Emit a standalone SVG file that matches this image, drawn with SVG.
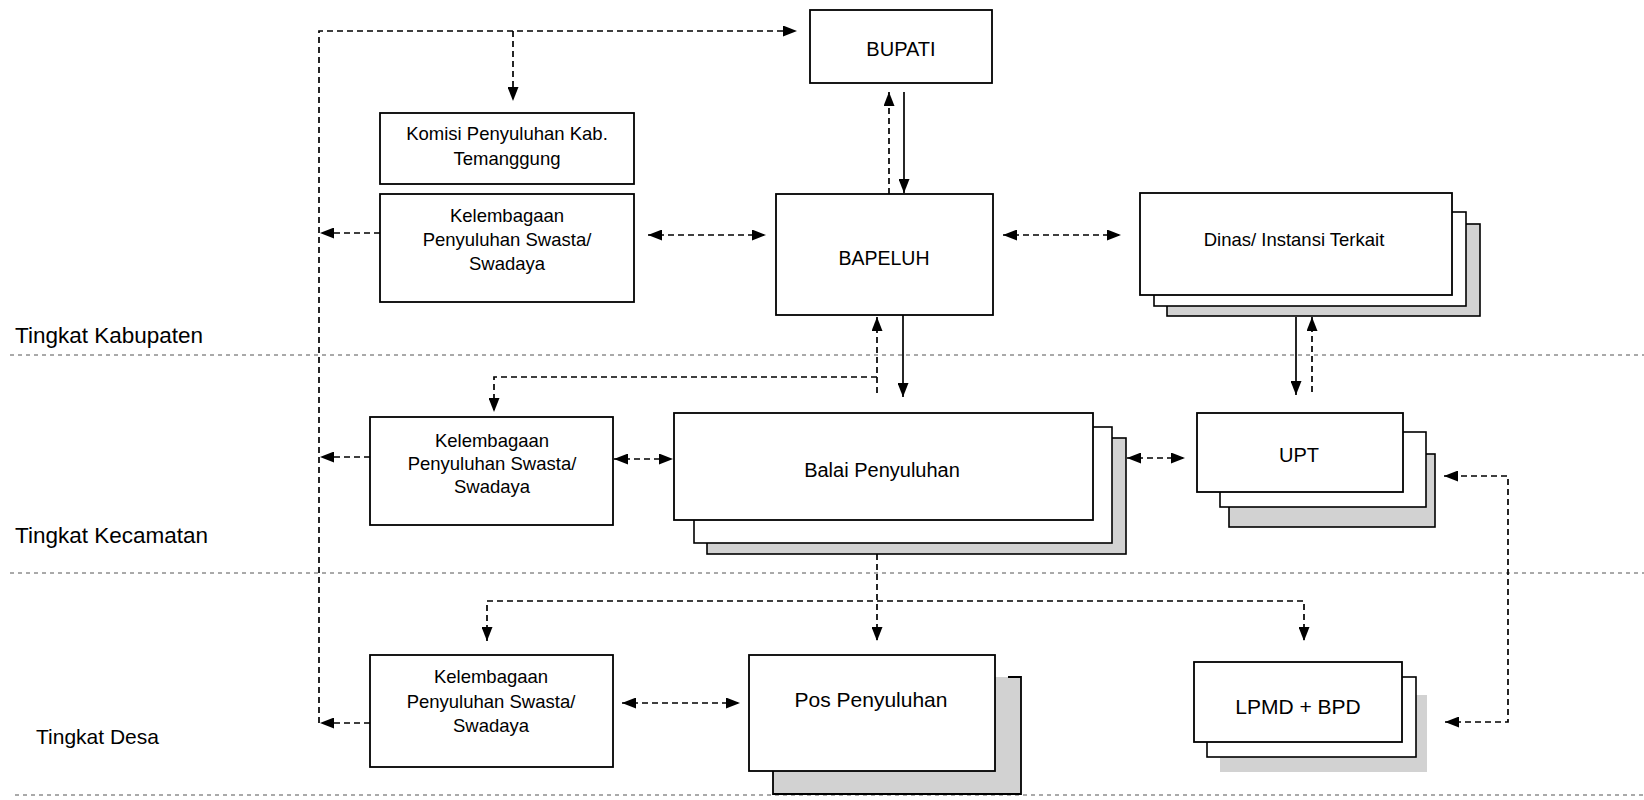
<svg xmlns="http://www.w3.org/2000/svg" width="1644" height="800" viewBox="0 0 1644 800">
<style>
.box{fill:#fff;stroke:#000;stroke-width:1.8}
.mid{fill:#fff;stroke:#000;stroke-width:1.6}
.shade{fill:#d2d2d2;stroke:#000;stroke-width:1.6}
.shadeN{fill:#d2d2d2;stroke:none}
.edge{fill:none;stroke:#000;stroke-width:1.8}
.t{font-family:"Liberation Sans",Arial,sans-serif;font-size:18.5px;text-anchor:middle;fill:#000}
.lbl{font-family:"Liberation Sans",Arial,sans-serif;font-size:22.5px;fill:#000}
.dash{fill:none;stroke:#000;stroke-width:1.7;stroke-dasharray:6 4}
.solid{fill:none;stroke:#000;stroke-width:1.7}
.sep{fill:none;stroke:#555;stroke-width:1;stroke-dasharray:4 4}
</style>
<defs>
<marker id="arr" viewBox="0 0 14 11" refX="14" refY="5.5" markerWidth="14" markerHeight="11" markerUnits="userSpaceOnUse" orient="auto-start-reverse">
<path d="M0,0 L14,5.5 L0,11 z" fill="#000"/>
</marker>
</defs>
<rect width="1644" height="800" fill="#fff"/>

<g id="separators">
<line class="sep" x1="10" y1="355" x2="1644" y2="355"/>
<line class="sep" x1="10" y1="573" x2="1644" y2="573"/>
<line class="sep" x1="15" y1="795" x2="1644" y2="795"/>
</g>

<g id="labels">
<text class="lbl" x="15" y="343">Tingkat Kabupaten</text>
<text class="lbl" x="15" y="543">Tingkat Kecamatan</text>
<text class="lbl" x="36" y="744" style="font-size:21px">Tingkat Desa</text>
</g>

<g id="connectors">
<path class="dash" d="M319,723 V31 H797" marker-end="url(#arr)"/>
<path class="dash" d="M513,31 V101" marker-end="url(#arr)"/>
<path class="dash" d="M380,233 H320" marker-end="url(#arr)"/>
<path class="dash" d="M370,457 H320" marker-end="url(#arr)"/>
<path class="dash" d="M370,723 H320" marker-end="url(#arr)"/>
<path class="dash" d="M648,235 H766" marker-start="url(#arr)" marker-end="url(#arr)"/>
<path class="dash" d="M1003,235 H1121" marker-start="url(#arr)" marker-end="url(#arr)"/>
<path class="dash" d="M889,194 V92" marker-end="url(#arr)"/>
<path class="solid" d="M904,92 V193" marker-end="url(#arr)"/>
<path class="solid" d="M903,315 V397" marker-end="url(#arr)"/>
<path class="dash" d="M877,393 V317" marker-end="url(#arr)"/>
<path class="dash" d="M877,377 H494 V412" marker-end="url(#arr)"/>
<path class="solid" d="M1296,317 V395" marker-end="url(#arr)"/>
<path class="dash" d="M1312,392 V317" marker-end="url(#arr)"/>
<path class="dash" d="M1127,458 H1185" marker-start="url(#arr)" marker-end="url(#arr)"/>
<path class="dash" d="M614,459 H673" marker-start="url(#arr)" marker-end="url(#arr)"/>
<path class="dash" d="M877,554 V641" marker-end="url(#arr)"/>
<path class="dash" d="M487,641 V601 H1304 V641" marker-start="url(#arr)" marker-end="url(#arr)"/>
<path class="dash" d="M622,703 H740" marker-start="url(#arr)" marker-end="url(#arr)"/>
<path class="dash" d="M1445,722 H1508 V476 H1444" marker-start="url(#arr)" marker-end="url(#arr)"/>
</g>

<g id="bupati">
<rect class="box" x="810" y="10" width="182" height="73"/>
<text class="t" x="901" y="56" style="font-size:20px">BUPATI</text>
</g>

<g id="komisi">
<rect class="box" x="380" y="113" width="254" height="71"/>
<text class="t" x="507" y="140">Komisi Penyuluhan Kab.</text>
<text class="t" x="507" y="165">Temanggung</text>
</g>

<g id="kelembagaan-kab">
<rect class="box" x="380" y="194" width="254" height="108"/>
<text class="t" x="507" y="222">Kelembagaan</text>
<text class="t" x="507" y="246">Penyuluhan Swasta/</text>
<text class="t" x="507" y="270">Swadaya</text>
</g>

<g id="bapeluh">
<rect class="box" x="776" y="194" width="217" height="121"/>
<text class="t" x="884" y="265" style="font-size:19.5px">BAPELUH</text>
</g>

<g id="dinas">
<rect class="shade" x="1167" y="224" width="313" height="92"/>
<rect class="mid" x="1154" y="212" width="312" height="94"/>
<rect class="box" x="1140" y="193" width="312" height="102"/>
<text class="t" x="1294" y="246">Dinas/ Instansi Terkait</text>
</g>

<g id="kelembagaan-kec">
<rect class="box" x="370" y="417" width="243" height="108"/>
<text class="t" x="492" y="447">Kelembagaan</text>
<text class="t" x="492" y="470">Penyuluhan Swasta/</text>
<text class="t" x="492" y="493">Swadaya</text>
</g>

<g id="balai">
<rect class="shade" x="707" y="438" width="419" height="116"/>
<rect class="mid" x="694" y="427" width="418" height="116"/>
<rect class="box" x="674" y="413" width="419" height="107"/>
<text class="t" x="882" y="477" style="font-size:20px">Balai Penyuluhan</text>
</g>

<g id="upt">
<rect class="shade" x="1229" y="454" width="206" height="73"/>
<rect class="mid" x="1220" y="432" width="206" height="75"/>
<rect class="box" x="1197" y="413" width="206" height="79"/>
<text class="t" x="1299" y="462" style="font-size:20px">UPT</text>
</g>

<g id="kelembagaan-desa">
<rect class="box" x="370" y="655" width="243" height="112"/>
<text class="t" x="491" y="683">Kelembagaan</text>
<text class="t" x="491" y="708">Penyuluhan Swasta/</text>
<text class="t" x="491" y="732">Swadaya</text>
</g>

<g id="pos">
<rect class="shadeN" x="773" y="677" width="248" height="117"/>
<path class="edge" d="M1008,677 H1021 V794 H773 V771"/>
<rect class="box" x="749" y="655" width="246" height="116"/>
<text class="t" x="871" y="707" style="font-size:21px">Pos Penyuluhan</text>
</g>

<g id="lpmd">
<rect class="shadeN" x="1220" y="695" width="207" height="77"/>
<rect class="mid" x="1207" y="677" width="209" height="80"/>
<rect class="box" x="1194" y="662" width="208" height="80"/>
<text class="t" x="1298" y="714" style="font-size:21px">LPMD + BPD</text>
</g>
</svg>
